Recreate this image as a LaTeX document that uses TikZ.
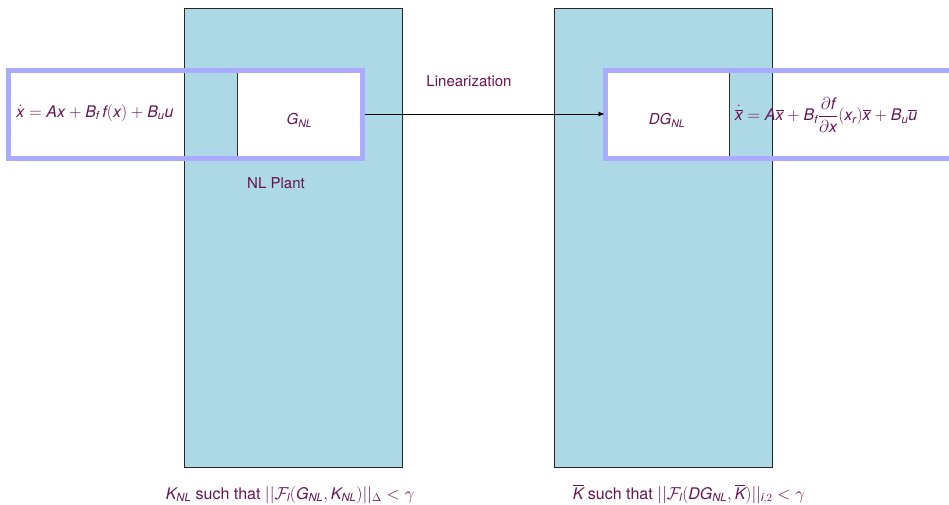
\documentclass[tikz,border=0pt]{standalone}
\usepackage{amsmath}
\usepackage{fontspec}
\setmainfont{TeX Gyre Heros}
\usetikzlibrary{arrows.meta}
\definecolor{txt}{RGB}{102,20,80}
\definecolor{boxblue}{RGB}{173,216,230}
\definecolor{framecol}{RGB}{170,170,255}
\newcommand{\iv}[1]{\textit{#1}}
\begin{document}
\begin{tikzpicture}[x=1pt,y=-1pt,
  every node/.style={font=\fontsize{15}{18}\selectfont, text=txt},
  bigbox/.style={draw=black!85, line width=1pt, fill=boxblue, minimum width=218pt, minimum height=458pt, inner sep=0pt},
  cellbox/.style={draw=black!80, line width=1pt, fill=white, minimum height=88pt, inner sep=0pt},
  frame/.style={draw=framecol, line width=5pt},
  plain/.style={inner sep=1pt},
  eqn/.style={inner sep=1pt, font=\fontsize{16}{19}\selectfont}]
\useasboundingbox (0,0) rectangle (949,505);
\node[bigbox] (bigL) at (293,238) {};
\node[bigbox] (bigR) at (663,238) {};
\node[eqn] (eqL) at (95,113) {$\dot{\iv{x}} = \iv{Ax} + \iv{B}_{\iv{f}}\,\iv{f}(\iv{x}) + \iv{B}_{\iv{u}}\iv{u}$};
\node[cellbox, minimum width=125pt] (GNL) at (299.5,114) {\raisebox{-11pt}[0pt][0pt]{$\iv{G}_{\iv{NL}}$}};
\node[cellbox, minimum width=124pt] (DGNL) at (667,114) {\raisebox{-11pt}[0pt][0pt]{$\iv{DG}_{\iv{NL}}$}};
\node[eqn] (eqR) at (826,115) {$\dot{\overline{\iv{x}}} = \iv{A}\overline{\iv{x}} + \iv{B}_{\iv{f}}\dfrac{\partial \iv{f}}{\partial \iv{x}}(\iv{x}_{\iv{r}})\overline{\iv{x}} + \iv{B}_{\iv{u}}\overline{\iv{u}}$};
\draw[frame] (8,70.5) rectangle (362,159);
\draw[frame] (605,70.5) rectangle (965,159);
\draw[-{Latex[length=6pt,width=5pt]}, line width=0.8pt] (GNL.east) ++(2.5,0) coordinate (aS) (aS) -- (DGNL.west);
\node[plain] (lin) at (469,81) {Linearization};
\node[plain] (nlp) at (276,183) {NL Plant};
\node[eqn] (labL) at (290,495) {$\iv{K}_{\iv{NL}}$ such that $||\mathcal{F}_{\iv{l}}(\iv{G}_{\iv{NL}}, \iv{K}_{\iv{NL}})||_{\Delta} < \gamma$};
\node[eqn] (labR) at (689,494) {$\overline{\iv{K}}$ such that $||\mathcal{F}_{\iv{l}}(\iv{DG}_{\iv{NL}},\overline{\iv{K}})||_{\iv{i},2} < \gamma$};
\end{tikzpicture}
\end{document}
